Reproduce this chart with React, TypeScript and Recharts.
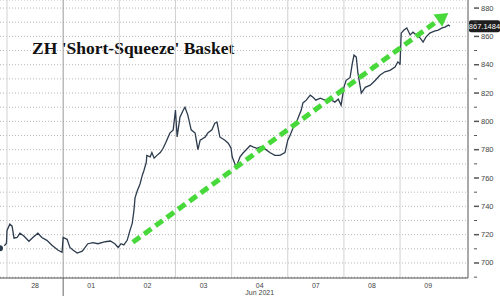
import { LineChart, Line, XAxis, YAxis, CartesianGrid, ReferenceLine, ReferenceDot } from 'recharts';

const times = [
  -0.125, -0.04, -0.01, 0.0, 0.05, 0.09, 0.125, 0.18, 0.23, 0.3, 0.39, 0.46, 0.55, 0.62, 0.71, 0.8, 0.91, 0.98,
  1.0, 1.07, 1.12, 1.18, 1.25, 1.34, 1.44, 1.53, 1.62, 1.75, 1.84, 1.92, 1.98,
  2.03, 2.08, 2.14, 2.19, 2.23, 2.26, 2.28, 2.32, 2.37, 2.41, 2.44, 2.48, 2.49, 2.55, 2.58, 2.62, 2.67, 2.73, 2.78, 2.83, 2.9, 2.96,
  3.0, 3.03, 3.08, 3.14, 3.17, 3.22, 3.28, 3.35, 3.4, 3.44, 3.53, 3.58, 3.65, 3.7, 3.74, 3.79, 3.88, 3.94, 3.99,
  4.01, 4.08, 4.15, 4.2, 4.26, 4.33, 4.38, 4.45, 4.51, 4.6, 4.68, 4.77, 4.86, 4.95,
  5.0, 5.04, 5.09, 5.15, 5.18, 5.24, 5.27, 5.33, 5.4, 5.45, 5.5, 5.58, 5.66, 5.75, 5.84, 5.9, 5.95,
  6.0, 6.04, 6.11, 6.15, 6.18, 6.22, 6.25, 6.31, 6.38, 6.47, 6.56, 6.64, 6.73, 6.82, 6.91, 6.96, 6.99,
  7.0, 7.02, 7.07, 7.12, 7.18, 7.23, 7.29, 7.36, 7.41, 7.46, 7.53, 7.61, 7.68, 7.75, 7.8, 7.86, 7.89,
];
const values = [
  710.4, 712.5, 714, 723, 727.4, 726, 717.5, 718, 721, 719, 715.3, 718, 721, 718, 716, 712.5, 709, 707.6,
  718, 716.7, 711, 709, 707, 708.3, 713.6, 714.4, 713.6, 715, 715.5, 713.6, 711,
  713.6, 712.8, 716, 723, 728, 737, 746, 751, 756, 762, 765.5, 771, 776, 775, 778, 774, 776, 778, 781, 785.3, 791.7, 794,
  808, 789, 803, 808, 810, 804.4, 794, 791.7, 780, 786.7, 789, 792, 794, 798.7, 799.4, 789, 786.7, 784.6, 781,
  775, 767.6, 775, 777.5, 780, 783, 782, 781, 782, 780.4, 778, 776, 776, 778,
  786.7, 790, 795, 798.7, 802, 808, 813, 815, 818.5, 817, 815, 816.4, 815, 815.7, 813.6, 815.7, 811.4,
  824, 829, 831, 841, 846.8, 845.4, 834, 820, 824, 825.6, 829, 832.6, 835, 836, 838.4, 842, 841,
  840, 862.3, 864.5, 866, 861, 863, 861, 858.8, 856, 859.5, 862.3, 863.7, 864.5, 866, 866.6, 868, 867.1,
];

const dayLabels = ['28', '01', '02', '03', '04', '07', '08', '09'];
const dayCenters = [0.5, 1.5, 2.5, 3.5, 4.5, 5.5, 6.5, 7.5];
const dayStarts = [0, 1, 2, 3, 4, 5, 6, 7];
const monthLabel = 'Jun 2021';
const monthStart = 1;
const yTicks = [690, 700, 710, 720, 730, 740, 750, 760, 770, 780, 790, 800, 810, 820, 830, 840, 850, 860, 870, 880];
const lastValue = 867.1484;
const trendStart = { t: 2.24, v: 714.6 };
const trendEnd = { t: 7.7, v: 871.9 };
const trendTip = { t: 7.86, v: 876.5 };

const data = times.map((t, i) => ({ t, v: values[i] }));

const GREEN = '#47d93a';
const AXIS = '#555';
const FONT = '"Liberation Sans", Arial, sans-serif';
const AXIS_Y = 278; // bottom of the plot area (296 - x axis height)

const XTick = ({ x, payload }: any) => {
  const val = payload.value;
  if (val === monthStart) {
    return <line x1={x} x2={x} y1={AXIS_Y} y2={AXIS_Y + 18} stroke="#666" strokeWidth={1} />;
  }
  const idx = dayCenters.indexOf(val);
  return (
    <g>
      <text x={x} y={AXIS_Y + 10} textAnchor="middle" fontSize={7} fill="#444" fontFamily={FONT}>
        {dayLabels[idx]}
      </text>
      {val === 4.5 && (
        <text x={x} y={AXIS_Y + 16.5} textAnchor="middle" fontSize={7} fill="#444" fontFamily={FONT}>
          {monthLabel}
        </text>
      )}
    </g>
  );
};

const YTick = ({ x, y, payload }: any) => {
  const major = payload.value % 20 === 0;
  return (
    <g>
      <line x1={x - 2} x2={x + (major ? 3 : 1)} y1={y} y2={y} stroke={AXIS} strokeWidth={major ? 1.5 : 1} />
      {major && (
        <text x={x + 5} y={y + 2.5} fontSize={7.5} fill="#444" fontFamily={FONT}>
          {payload.value}
        </text>
      )}
    </g>
  );
};

const PriceTag = ({ viewBox }: any) => {
  const bx = viewBox.x + viewBox.width + 1;
  const by = viewBox.y;
  return (
    <g>
      <rect x={bx} y={by - 6} width={31} height={12} rx={2} fill="#1e1e1e" />
      <text x={bx + 15.5} y={by + 2.7} textAnchor="middle" fontSize={7.5} fill="#fff" fontFamily={FONT}>
        {lastValue.toFixed(4)}
      </text>
    </g>
  );
};

const ArrowHead = ({ cx, cy }: any) => {
  // head pointing along the trend line direction
  const dx = 0.809, dy = -0.587, len = 13, half = 7.5;
  const bx = cx - dx * len, by = cy - dy * len;
  const px = -dy, py = dx;
  return (
    <polygon
      points={`${cx},${cy} ${bx + px * half},${by + py * half} ${bx - px * half},${by - py * half}`}
      fill={GREEN}
    />
  );
};

export default function App() {
  return (
    <div style={{ width: 500, height: 296, background: '#fff', position: 'relative' }}>
      <style>{'body{margin:0}'}</style>
      <LineChart width={500} height={296} data={data} margin={{ top: 0, right: 0, bottom: 0, left: 0 }}>
        <CartesianGrid horizontal vertical={false} stroke="#b8b8b8" strokeDasharray="1 2" />
        {dayStarts.map(d => (
          <ReferenceLine key={d} x={d} stroke={d === monthStart ? '#999' : '#d2d2d2'} strokeWidth={1} />
        ))}
        <XAxis
          dataKey="t"
          type="number"
          domain={[-0.125, 8.21]}
          ticks={[...dayCenters, monthStart].sort((a, b) => a - b)}
          interval={0}
          height={18}
          tick={<XTick />}
          tickLine={false}
          axisLine={{ stroke: AXIS }}
          allowDataOverflow
        />
        <YAxis
          orientation="right"
          type="number"
          domain={[689.4, 885.7]}
          ticks={yTicks}
          interval={0}
          width={32}
          tick={<YTick />}
          tickLine={false}
          axisLine={{ stroke: AXIS }}
          allowDataOverflow
        />
        <Line
          type="linear"
          dataKey="v"
          stroke="#2c3b4d"
          strokeWidth={1.3}
          dot={false}
          isAnimationActive={false}
        />
        <ReferenceLine
          segment={[{ x: trendStart.t, y: trendStart.v }, { x: trendEnd.t, y: trendEnd.v }]}
          stroke={GREEN}
          strokeWidth={5}
          strokeDasharray="9 5"
          ifOverflow="visible"
        />
        <ReferenceDot x={trendTip.t} y={trendTip.v} r={0} shape={<ArrowHead />} ifOverflow="visible" />
        <ReferenceLine y={lastValue} stroke="none" label={<PriceTag />} />
        <text
          x={32}
          y={54}
          fontSize={17.5}
          fontWeight="bold"
          fill="#111"
          fontFamily='"Liberation Serif", "Times New Roman", serif'
        >
          ZH 'Short-Squeeze' Basket
        </text>
      </LineChart>
    </div>
  );
}
